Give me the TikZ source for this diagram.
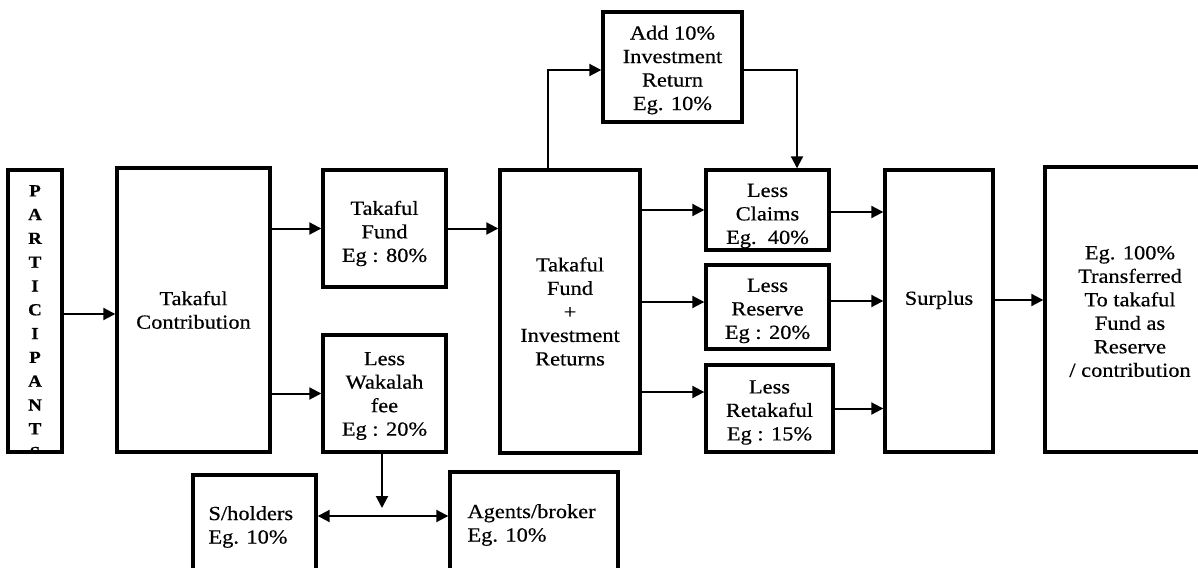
\documentclass[tikz,border=0pt]{standalone}
\usepackage{fontspec}
\setmainfont{Liberation Serif}[FakeStretch=1.12,FakeBold=0.5]
\usetikzlibrary{arrows.meta}
\begin{document}
\begin{tikzpicture}[x=1pt,y=-1pt,
  box/.style={draw, line width=3.4pt, inner sep=0pt},
  txt/.style={inner sep=0pt, align=center, font=\fontsize{20}{23.5}\selectfont},
  ltxt/.style={txt, align=left, anchor=west},
  tip/.style={Triangle[length=12pt,width=12pt]},
  arr/.style={line width=2pt, -{Triangle[length=12pt,width=12pt]}},
  darr/.style={line width=2pt, {Triangle[length=12pt,width=12pt]}-{Triangle[length=12pt,width=12pt]}}
]
\useasboundingbox (0,0) rectangle (1198,567);
\fill[white] (0,0) rectangle (1198,567);

% boxes
\node[box, minimum width=54, minimum height=282] (part) at (35,311) {};
\node[box, minimum width=153, minimum height=284] (contrib) at (193.5,310) {};
\node[box, minimum width=123, minimum height=117] (tfund) at (384.5,228.5) {};
\node[box, minimum width=123, minimum height=117] (wakalah) at (384.5,393.5) {};
\node[box, minimum width=140, minimum height=283] (tfir) at (570,311.5) {};
\node[box, minimum width=139, minimum height=110] (addinv) at (672.5,67) {};
\node[box, minimum width=123, minimum height=80] (claims) at (767.5,210) {};
\node[box, minimum width=123, minimum height=84] (reserve) at (767.5,307) {};
\node[box, minimum width=127, minimum height=87] (retak) at (769.5,408.5) {};
\node[box, minimum width=108, minimum height=282] (surplus) at (939,311) {};
\node[box, minimum width=170, minimum height=285] (transfer) at (1130,309.5) {};
\node[box, minimum width=123, minimum height=96] (sholders) at (254.5,523) {};
\node[box, minimum width=168, minimum height=100] (agents) at (534,522) {};

% vertical lettering, cut off by the frame at the bottom
\begin{scope}
  \clip ([xshift=1.7pt,yshift=-1.7pt]part.north west) rectangle ([xshift=-1.7pt,yshift=1.7pt]part.south east);
  \node[inner sep=0pt, anchor=north, align=center, font=\fontsize{17}{23.8}\selectfont\bfseries] (parttext) at (35,185)
    {P\\A\\R\\T\\I\\C\\I\\P\\A\\N\\T\\S};
\end{scope}

% box texts
\node[txt] (contribtext) at ([yshift=0pt]contrib.center) {Takaful\\Contribution};
\node[txt] (tfundtext) at ([yshift=-5pt]tfund.center) {Takaful\\Fund\\Eg : 80\%};
\node[txt] (wakalahtext) at ([yshift=-2.5pt]wakalah.center) {Less\\Wakalah\\fee\\Eg : 20\%};
\node[txt] (tfirtext) at (tfir.center) {Takaful\\Fund\\+\\Investment\\Returns};
\node[txt] (addinvtext) at ([yshift=-3pt]addinv.center) {Add 10\%\\Investment\\Return\\Eg. 10\%};
\node[txt] (claimstext) at ([yshift=-6pt]claims.center) {Less\\Claims\\Eg.\ \ 40\%};
\node[txt] (reservetext) at ([yshift=-4pt]reserve.center) {Less\\Reserve\\Eg : 20\%};
\node[txt] (retaktext) at ([yshift=-4pt]retak.center) {Less\\Retakaful\\Eg : 15\%};
\node[txt] (surplustext) at ([yshift=11pt]surplus.center) {Surplus};
\node[txt] (transfertext) at ([yshift=-2pt]transfer.center)
  {Eg. 100\%\\Transferred\\To takaful\\Fund as\\Reserve\\/ contribution};
\node[ltxt] (sholderstext) at ([xshift=17pt,yshift=-4pt]sholders.west) {S/holders\\Eg. 10\%};
\node[ltxt] (agentstext) at ([xshift=19pt,yshift=-3pt]agents.west) {Agents/broker\\Eg. 10\%};

% connectors
\draw[arr] ([yshift=-3pt]part.east) -- ([yshift=-3pt]part.east -| contrib.west);
\draw[arr] (contrib.east |- tfund.west) -- (tfund.west);
\draw[arr] (contrib.east |- wakalah.west) -- (wakalah.west);
\draw[arr] (tfund.east) -- (tfund.east -| tfir.west);
\draw[arr] ([xshift=-22pt]tfir.north) |- ([yshift=-3pt]addinv.west);
\draw[arr] ([yshift=-3pt]addinv.east) -| ([xshift=29.5pt]claims.north);
\draw[arr] (tfir.east |- claims.west) -- (claims.west);
\draw[arr] (tfir.east |- 0,302) -- ([yshift=5pt]reserve.west);
\draw[arr] (tfir.east |- 0,392) -- ([yshift=16.5pt]retak.west);
\draw[arr] ([yshift=-2pt]claims.east) -- ([yshift=-2pt]claims.east -| surplus.west);
\draw[arr] ([yshift=6pt]reserve.east) -- ([yshift=6pt]reserve.east -| surplus.west);
\draw[arr] (retak.east) -- (retak.east -| surplus.west);
\draw[arr] ([yshift=11pt]surplus.east) -- ([yshift=11pt]surplus.east -| transfer.west);
\coordinate (fork) at (382,508);
\draw[arr] (wakalah.south -| fork) -- (fork);
\draw[darr] ([yshift=7pt]sholders.east) -- ([yshift=7pt]sholders.east -| agents.west);
\end{tikzpicture}
\end{document}
